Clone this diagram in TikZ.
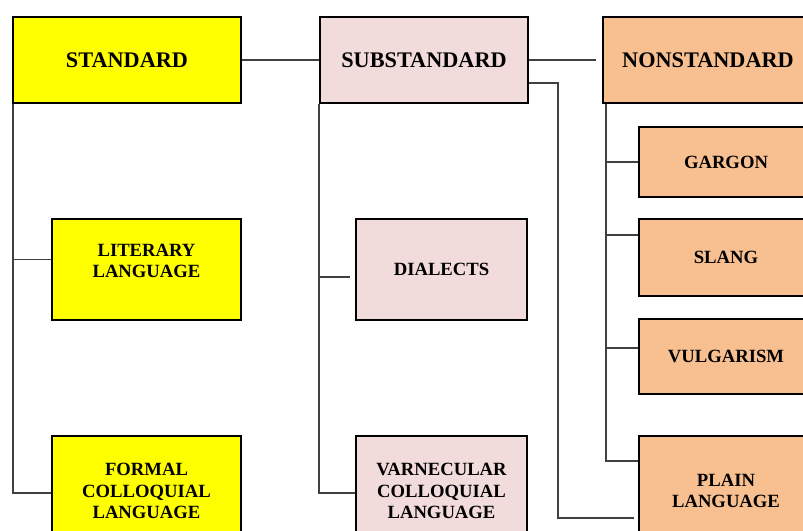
\documentclass[tikz,border=0pt]{standalone}
\usepackage{fontspec}
\setmainfont{Liberation Serif}
\definecolor{yellowbox}{HTML}{FFFF00}
\definecolor{pinkbox}{HTML}{F2DCDB}
\definecolor{orangebox}{HTML}{F8C090}
\begin{document}
\begin{tikzpicture}[x=0.75pt, y=-0.75pt,
    box/.style={draw=black, line width=1.5pt, anchor=north west, align=center, inner sep=0pt, font=\bfseries\fontsize{14}{16}\selectfont},
    head/.style={box, font=\bfseries\fontsize{16.7}{20}\selectfont},
    link/.style={draw=black!75, line width=0.8pt}]
    \useasboundingbox (0,0) rectangle (803,531);
    \clip (0,0) rectangle (803,531);
    % top row
    \node[head, fill=yellowbox, minimum width=171pt, minimum height=64.5pt] (std) at (12,16) {STANDARD};
    \node[head, fill=pinkbox, minimum width=156pt, minimum height=64.5pt] (sub) at (319,16) {SUBSTANDARD};
    \node[head, fill=orangebox, minimum width=157.5pt, minimum height=64.5pt] (non) at (602,16) {NONSTANDARD};
    % standard
    \node[box, fill=yellowbox, minimum width=141.75pt, minimum height=75.75pt, text depth=13pt] (lit) at (51,218) {LITERARY\\LANGUAGE};
    \node[box, fill=yellowbox, minimum width=141.75pt, minimum height=82.5pt] (fcl) at (51,435) {FORMAL\\COLLOQUIAL\\LANGUAGE};
    % substandard
    \node[box, fill=pinkbox, minimum width=128.25pt, minimum height=75.75pt] (dia) at (355,218) {DIALECTS};
    \node[box, fill=pinkbox, minimum width=128.25pt, minimum height=82.5pt] (vcl) at (355,435) {VARNECULAR\\COLLOQUIAL\\LANGUAGE};
    % nonstandard
    \node[box, fill=orangebox, minimum width=130.5pt, minimum height=52.5pt] (gar) at (638,126) {GARGON};
    \node[box, fill=orangebox, minimum width=130.5pt, minimum height=57.75pt] (sla) at (638,218) {SLANG};
    \node[box, fill=orangebox, minimum width=130.5pt, minimum height=56.25pt] (vul) at (638,318) {VULGARISM};
    \node[box, fill=orangebox, minimum width=130.5pt, minimum height=82.5pt] (pla) at (638,435) {PLAIN\\LANGUAGE};
    % links
    \draw[link] (std) -- (sub);
    \draw[link] (sub) -- ([xshift=-4.5pt]non.west);
    \draw[link] ([xshift=0.75pt]std.south west) |- ([yshift=7.5pt]lit.west);
    \draw[link] ([xshift=0.75pt]std.south west) |- ([yshift=-1.5pt]fcl.west);
    \draw[link] (sub.south west) |- ([xshift=-3.75pt, yshift=-5.6pt]dia.west);
    \draw[link] (sub.south west) |- ([yshift=-1.5pt]vcl.west);
    \draw[link] ([yshift=15.75pt]sub.south east) -- ++(29,0) |- ([xshift=-3pt, yshift=-20.25pt]pla.west);
    \draw[link] ([xshift=3pt]non.south west) |- (gar.west);
    \draw[link] ([xshift=3pt]non.south west) |- ([yshift=16.9pt]sla.west);
    \draw[link] ([xshift=3pt]non.south west) |- ([yshift=6.4pt]vul.west);
    \draw[link] ([xshift=3pt]non.south west) |- ([yshift=22.5pt]pla.west);
\end{tikzpicture}
\end{document}
